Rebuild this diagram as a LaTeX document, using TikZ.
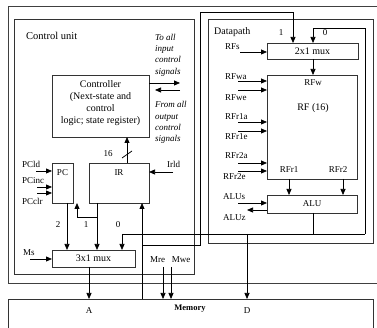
\documentclass[tikz,border=0pt]{standalone}
\usepackage{fontspec}
\setmainfont{Liberation Serif}
\usetikzlibrary{arrows.meta}
\begin{document}
\begin{tikzpicture}[x=1pt,y=-1pt,
  box/.style={draw=black!80, line width=0.75pt, inner sep=0pt, outer sep=0pt, anchor=north west},
  frame/.style={draw=black!75, line width=0.75pt},
  wire/.style={line width=0.75pt},
  arr/.style={wire, -{Triangle[length=6pt,width=5pt]}},
  lbl/.style={inner sep=0pt, font=\fontsize{9}{10}\selectfont},
  llbl/.style={lbl, anchor=west},
  blbl/.style={inner sep=0pt, font=\fontsize{10}{12}\selectfont},
  itl/.style={inner sep=0pt, anchor=west, align=left, font=\fontsize{9}{11.3}\selectfont\itshape}
]
\useasboundingbox (0,0) rectangle (377,328);
\clip (0,0) rectangle (377,328);

% outer frame
\draw[frame] (377,6) -- (8,6) -- (8,283) -- (377,283);

% main boxes
\node[box, minimum width=180pt, minimum height=255pt] (cu) at (14,19) {};
\node[box, minimum width=165pt, minimum height=224pt] (dp) at (208,19) {};
\node[box, minimum width=365pt, minimum height=45pt] (mem) at (8,299) {};

\node[blbl, anchor=west, font=\fontsize{10.5}{12}\selectfont] (cut) at (26,36) {Control unit};
\node[blbl, anchor=west] (dpt) at (214,32) {Datapath};

% control unit parts
\node[box, minimum width=97pt, minimum height=62pt] (ctrl) at (52,75) {};
\node[blbl, align=center] (ctrlt) at (100.5,103) {Controller\\(Next-state and\\control\\logic; state register)};
\node[box, minimum width=21pt, minimum height=40pt] (pc) at (52,163) {};
\node[lbl] (pct) at (62.5,173) {PC};
\node[box, minimum width=60pt, minimum height=40pt] (ir) at (89,163) {};
\node[lbl] (irt) at (119,173) {IR};
\node[box, minimum width=83pt, minimum height=17pt] (mux3) at (52,250) {};
\node[blbl] (mux3t) at (93.5,258.5) {3x1 mux};

% datapath parts
\node[box, minimum width=91pt, minimum height=16pt] (mux2) at (267,43) {};
\node[blbl] (mux2t) at (312.5,51) {2x1 mux};
\node[box, minimum width=90pt, minimum height=104pt] (rf) at (267,75) {};
\node[lbl] (rfwt) at (313,83) {RFw};
\node[blbl] (rft) at (313,108) {RF (16)};
\node[lbl] (rfr1t) at (289,170) {RFr1};
\node[lbl] (rfr2t) at (338,170) {RFr2};
\node[box, minimum width=90pt, minimum height=18pt] (alu) at (267,195) {};
\node[lbl] (alut) at (312,204) {ALU};

\node[itl] (toall) at (155,55) {To all\\input\\control\\signals};
\node[itl] (fromall) at (155,122.5) {From all\\output\\control\\signals};

\coordinate (ctlo) at (180,83);
\draw[arr] (ctrl.east |- ctlo) -- (ctlo);
\coordinate (ctlis) at (180,90);
\coordinate (ctlie) at (155,90);
\draw[arr] (ctlis) -- (ctlie);

\coordinate (bus16) at (127,150);
\draw[arr] (ir.north -| bus16) -- (ctrl.south -| bus16);
\draw[wire] (122,158) -- (132,151);
\node[lbl] (n16) at (108,154) {16};

% PC inputs
\node[llbl] (pcldt) at (22,164) {PCld};
\node[llbl] (pcinct) at (22,181) {PCinc};
\node[llbl] (pcclrt) at (22,201) {PCclr};
\coordinate (pcld) at (36,171);
\coordinate (pcinc) at (37,187);
\coordinate (pcclr) at (37,193);
\draw[arr] (pcld) -- (pc.west |- pcld);
\draw[arr] (pcinc) -- (pc.west |- pcinc);
\draw[arr] (pcclr) -- (pc.west |- pcclr);

\node[llbl] (irldt) at (167,164) {Irld};
\coordinate (irld) at (173,172);
\draw[arr] (irld) -- (ir.east |- irld);

% mux inputs
\coordinate (pco) at (67,230);
\draw[arr] (pc.south -| pco) -- (mux3.north -| pco);
\node[lbl] (n2) at (58,225) {2};
\coordinate (irb) at (97,217);
\coordinate (pcb) at (77,217);
\draw[arr] (ir.south -| irb) -- (mux3.north -| irb);
\draw[arr] (irb) -- (pcb) -- (pc.south -| pcb);
\node[lbl] (n1) at (86,225) {1};
\node[lbl] (n0) at (118,225) {0};

\node[llbl] (mst) at (23,253) {Ms};
\coordinate (ms) at (30,259);
\draw[arr] (ms) -- (mux3.west |- ms);

% memory connections
\coordinate (aout) at (89,280);
\draw[arr] (mux3.south -| aout) -- (mem.north -| aout);
\node[lbl] (at) at (89,311) {A};
\node[lbl] (dt) at (247,311) {D};
\node[lbl, font=\fontsize{8.5}{10}\selectfont\bfseries] (memt) at (190,309) {Memory};

\node[lbl] (mret) at (157.5,260) {Mre};
\node[lbl] (mwet) at (181,260) {Mwe};
\coordinate (mre) at (163,267);
\coordinate (mwe) at (171,267);
\draw[arr] (mre) -- (mem.north -| mre);
\draw[arr] (mwe) -- (mem.north -| mwe);

\coordinate (mi) at (142,245);
\draw[arr] (mem.north -| mi) -- (ir.south -| mi);
\coordinate (di1) at (200,245);
\coordinate (di2) at (200,12);
\coordinate (di3) at (293,12);
\draw[arr] (mi) -- (di1) -- (di2) -- (di3) -- (mux2.north -| di3);

\node[lbl] (d1) at (281,33) {1};
\node[lbl] (d0) at (325,33) {0};

\node[llbl] (rfst) at (225,47) {RFs};
\coordinate (rfs) at (240,52);
\draw[arr] (rfs) -- (mux2.west |- rfs);
\coordinate (m2o) at (313,65);
\draw[arr] (mux2.south -| m2o) -- (rf.north -| m2o);

\node[llbl] (rfwat) at (225,77) {RFwa};
\node[llbl] (rfwet) at (225,98) {RFwe};
\node[llbl] (rfr1at) at (225,117) {RFr1a};
\node[llbl] (rfr1et) at (225,137) {RFr1e};
\node[llbl] (rfr2at) at (225,156) {RFr2a};
\node[llbl] (rfr2et) at (223,177) {RFr2e};
\foreach \yy/\nm in {81/a1,90/a2,122/a3,131/a4,163/a5,171/a6} {
  \coordinate (\nm) at (238,\yy);
  \draw[arr] (\nm) -- (rf.west |- \nm);
}

\coordinate (r1) at (289,187);
\coordinate (r2) at (343,187);
\draw[arr] (rf.south -| r1) -- (alu.north -| r1);
\draw[arr] (rf.south -| r2) -- (alu.north -| r2);

\node[llbl] (alust) at (223,197) {ALUs};
\node[llbl] (aluzt) at (223,218) {ALUz};
\coordinate (alus) at (238,203);
\draw[arr] (alus) -- (alu.west |- alus);
\coordinate (aluz) at (247,210);
\draw[arr] (alu.west |- aluz) -- (aluz);

% ALU output bus
\coordinate (aluo) at (313,234);
\coordinate (fbl) at (122,234);
\coordinate (fbr) at (365,234);
\coordinate (fbt) at (365,28);
\coordinate (fbm) at (313,28);
\coordinate (dbus) at (247,234);
\draw[wire] (alu.south -| aluo) -- (aluo);
\draw[wire] (fbl) -- (fbr);
\draw[arr] (fbl) -- (mux3.north -| fbl);
\draw[arr] (fbr) -- (fbt) -- (fbm) -- (mux2.north -| fbm);
\draw[arr] (dbus) -- (mem.north -| dbus);
\end{tikzpicture}
\end{document}
